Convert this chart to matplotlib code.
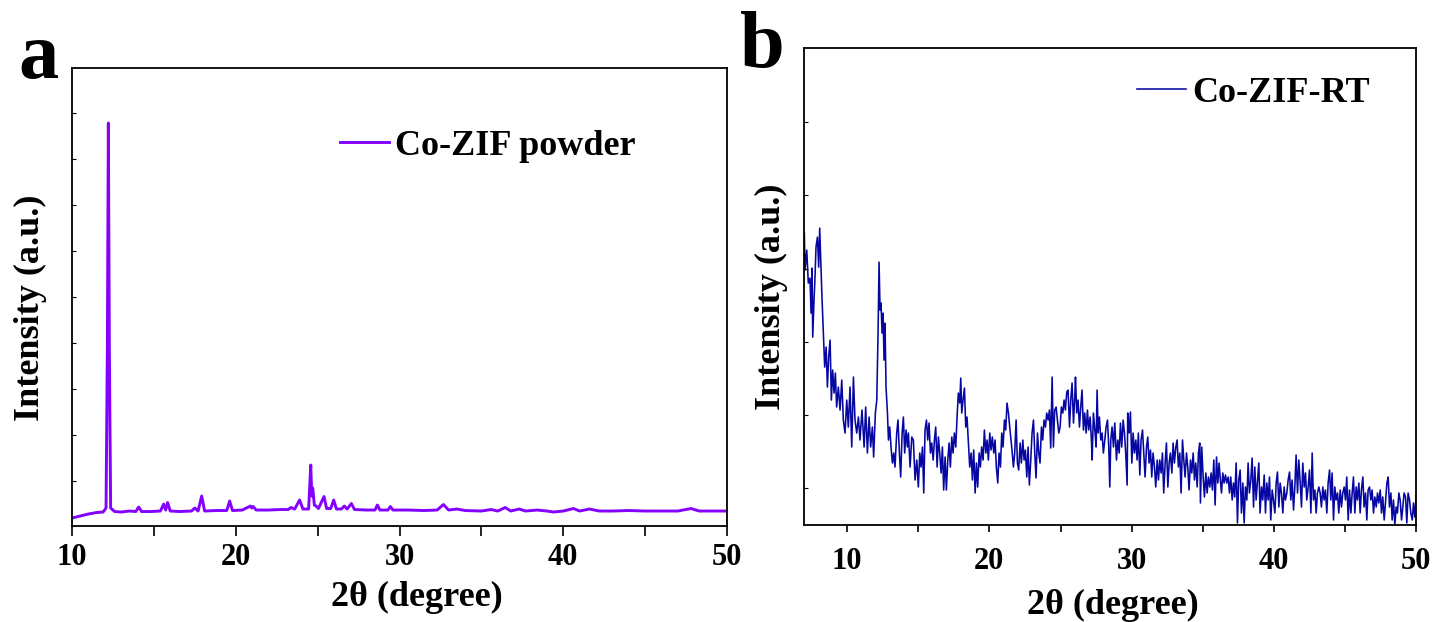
import numpy as np
import matplotlib
matplotlib.use("Agg")
import matplotlib.pyplot as plt

plt.rcParams['font.family'] = ['Liberation Serif', 'DejaVu Serif']
plt.rcParams['font.weight'] = 'bold'

# ---- panel a : Co-ZIF powder (2theta, intensity a.u.) ----
powder_2theta = [10.0, 10.5, 11.0, 11.5, 11.9, 12.08, 12.16, 12.22, 12.28, 12.36, 12.6, 13.0,
                 13.5, 13.9, 14.07, 14.25, 14.8, 15.4, 15.6, 15.72, 15.84, 16.0, 16.6, 17.3,
                 17.5, 17.7, 17.92, 18.1, 18.8, 19.45, 19.63, 19.8, 20.4, 20.9, 20.98, 21.06,
                 21.25, 22.0, 22.7, 23.2, 23.38, 23.6, 23.9, 24.1, 24.45, 24.58, 24.64, 24.7,
                 24.8, 24.9, 25.05, 25.39, 25.55, 25.8, 25.98, 26.15, 26.45, 26.63, 26.8, 27.06,
                 27.25, 28.0, 28.5, 28.65, 28.8, 29.3, 29.44, 29.6, 30.5, 31.5, 32.3, 32.68,
                 33.0, 33.5, 34.0, 35.0, 35.6, 36.0, 36.45, 36.8, 37.3, 37.7, 38.4, 39.0,
                 39.4, 40.0, 40.62, 41.0, 41.6, 42.2, 43.0, 44.0, 45.0, 46.0, 47.0, 47.8,
                 48.3, 49.0, 50.0]
powder_int = [8, 10, 12, 13.5, 14, 18, 180, 403, 180, 18, 14.5, 14,
              15, 14.5, 19, 14.5, 14.5, 15, 22, 16, 23.5, 15, 14.5, 15,
              18, 15, 30, 15, 15.5, 15.5, 25, 15.5, 16, 20, 18, 19.5,
              16, 16, 16.5, 16.5, 18.5, 17, 26, 17, 17, 61, 30, 38,
              21, 20, 17.5, 29.5, 17.5, 17.5, 26, 17, 17, 20, 17, 22.5,
              16.5, 16, 16, 21, 16, 16, 19.5, 16, 16, 15.5, 16, 21.5,
              16, 17, 15.5, 15, 16.5, 15, 18.5, 15, 17, 15, 16, 15,
              14, 15, 17.5, 15, 17, 15, 15, 15.5, 15, 15, 15, 17.5,
              15, 15, 15]

rt_07_14 = [(7.0, 292), (7.05, 255), (7.17, 275), (7.28, 242), (7.40, 247), (7.47, 212), (7.54, 257),
            (7.59, 188), (7.68, 225), (7.75, 248), (7.82, 278), (7.92, 288), (8.01, 258), (8.08, 297),
            (8.17, 258), (8.24, 228), (8.34, 192), (8.43, 158), (8.53, 178), (8.62, 138), (8.71, 168),
            (8.81, 185), (8.90, 125), (8.99, 155), (9.09, 132), (9.18, 152), (9.27, 118), (9.39, 138),
            (9.51, 115), (9.63, 145), (9.74, 105), (9.86, 92), (9.98, 125), (10.09, 98), (10.21, 138),
            (10.33, 78), (10.45, 148), (10.56, 105), (10.68, 92), (10.80, 108), (10.91, 85), (11.05, 115),
            (11.20, 78), (11.31, 118), (11.43, 72), (11.55, 108), (11.66, 78), (11.78, 98), (11.87, 68),
            (11.99, 112), (12.09, 125), (12.18, 192), (12.25, 263), (12.32, 215), (12.39, 222), (12.46, 192),
            (12.53, 212), (12.60, 165), (12.67, 202), (12.74, 138), (12.84, 112), (12.91, 85), (13.0, 98),
            (13.09, 78), (13.19, 62), (13.28, 72), (13.37, 58), (13.49, 92), (13.58, 105), (13.68, 72),
            (13.77, 48), (13.87, 92), (13.96, 108), (14.05, 72), (14.15, 95), (14.24, 78)]
rt_14_21 = [(14.31, 92), (14.43, 58), (14.55, 88), (14.66, 85), (14.78, 45), (14.90, 65), (15.01, 38),
            (15.11, 72), (15.20, 58), (15.30, 78), (15.39, 32), (15.48, 95), (15.58, 105), (15.67, 85),
            (15.76, 102), (15.86, 72), (15.95, 82), (16.05, 65), (16.14, 85), (16.23, 98), (16.33, 58),
            (16.42, 88), (16.51, 72), (16.61, 52), (16.70, 78), (16.79, 35), (16.89, 68), (16.98, 35),
            (17.08, 65), (17.17, 82), (17.26, 58), (17.36, 88), (17.45, 72), (17.54, 92), (17.64, 78),
            (17.73, 108), (17.82, 132), (17.92, 122), (17.99, 147), (18.06, 112), (18.15, 125), (18.25, 137),
            (18.34, 98), (18.43, 108), (18.53, 82), (18.62, 58), (18.72, 72), (18.81, 45), (18.90, 75),
            (19.0, 32), (19.09, 62), (19.18, 38), (19.28, 72), (19.37, 58), (19.46, 78), (19.56, 65),
            (19.65, 95), (19.75, 72), (19.84, 85), (19.93, 65), (20.03, 92), (20.12, 75), (20.21, 88),
            (20.31, 72), (20.40, 85), (20.49, 58), (20.59, 42), (20.68, 72), (20.78, 58), (20.87, 92),
            (20.96, 78), (21.06, 105), (21.15, 95), (21.24, 122), (21.34, 112), (21.43, 98)]
rt_21_29 = [(21.57, 78), (21.69, 58), (21.78, 72), (21.88, 105), (21.97, 62), (22.06, 55), (22.16, 82),
            (22.25, 62), (22.35, 85), (22.44, 65), (22.53, 75), (22.63, 48), (22.72, 78), (22.81, 40),
            (22.91, 65), (23.0, 92), (23.10, 105), (23.19, 72), (23.28, 47), (23.38, 92), (23.47, 72),
            (23.56, 62), (23.66, 98), (23.75, 85), (23.84, 105), (23.94, 98), (24.03, 112), (24.13, 105),
            (24.22, 115), (24.31, 77), (24.41, 148), (24.50, 78), (24.59, 115), (24.69, 118), (24.78, 105),
            (24.88, 92), (24.97, 98), (25.06, 118), (25.16, 112), (25.25, 125), (25.34, 115), (25.44, 133),
            (25.53, 135), (25.63, 98), (25.72, 125), (25.81, 142), (25.91, 102), (26.0, 128), (26.05, 148),
            (26.14, 112), (26.23, 125), (26.33, 98), (26.42, 118), (26.51, 135), (26.61, 95), (26.70, 112),
            (26.80, 92), (26.89, 115), (26.98, 95), (27.08, 108), (27.17, 85), (27.22, 65), (27.31, 112),
            (27.41, 95), (27.50, 78), (27.57, 135), (27.64, 92), (27.73, 108), (27.83, 85), (27.92, 92),
            (28.01, 72), (28.11, 85), (28.20, 98), (28.30, 105), (28.39, 78), (28.46, 38), (28.53, 85),
            (28.62, 98), (28.72, 78), (28.81, 102)]
rt_29_36 = [(28.93, 65), (29.02, 85), (29.12, 72), (29.21, 102), (29.30, 78), (29.40, 105), (29.49, 92),
            (29.58, 72), (29.68, 40), (29.72, 112), (29.82, 92), (29.91, 113), (30.01, 62), (30.10, 92),
            (30.19, 72), (30.29, 85), (30.38, 65), (30.47, 92), (30.57, 50), (30.66, 85), (30.76, 95),
            (30.85, 72), (30.94, 48), (31.04, 78), (31.13, 88), (31.22, 62), (31.32, 75), (31.41, 48),
            (31.50, 72), (31.60, 58), (31.69, 38), (31.79, 65), (31.88, 45), (31.97, 65), (32.07, 52),
            (32.16, 72), (32.25, 32), (32.35, 62), (32.44, 82), (32.54, 38), (32.63, 62), (32.72, 72),
            (32.82, 52), (32.91, 82), (33.0, 62), (33.10, 78), (33.19, 85), (33.28, 58), (33.38, 72),
            (33.47, 32), (33.57, 85), (33.66, 65), (33.75, 48), (33.85, 72), (33.94, 58), (34.03, 35),
            (34.13, 65), (34.22, 52), (34.32, 72), (34.41, 45), (34.50, 62), (34.60, 38), (34.69, 72),
            (34.78, 82), (34.83, 22), (34.92, 78), (35.02, 48), (35.11, 28), (35.21, 52), (35.30, 32),
            (35.39, 48), (35.49, 38), (35.58, 52), (35.67, 35), (35.77, 65), (35.86, 20), (35.96, 68),
            (36.05, 42), (36.14, 62)]
rt_36_43 = [(36.21, 48), (36.31, 32), (36.40, 52), (36.49, 42), (36.59, 50), (36.68, 42), (36.78, 48),
            (36.87, 32), (36.96, 48), (37.06, 25), (37.15, 42), (37.24, 28), (37.34, 62), (37.43, 2),
            (37.52, 45), (37.62, 55), (37.71, 12), (37.81, 42), (37.90, 2), (37.99, 38), (38.09, 25),
            (38.18, 62), (38.27, 32), (38.37, 45), (38.46, 67), (38.56, 18), (38.65, 58), (38.74, 25),
            (38.84, 45), (38.93, 62), (39.02, 12), (39.12, 38), (39.21, 25), (39.31, 50), (39.40, 12),
            (39.49, 42), (39.59, 25), (39.68, 48), (39.77, 5), (39.87, 35), (39.96, 25), (40.06, 12),
            (40.15, 42), (40.24, 53), (40.34, 18), (40.43, 42), (40.52, 32), (40.62, 12), (40.71, 38),
            (40.80, 25), (40.90, 32), (40.99, 45), (41.09, 53), (41.18, 25), (41.27, 45), (41.37, 15),
            (41.46, 38), (41.55, 70), (41.65, 32), (41.74, 65), (41.84, 42), (41.93, 18), (42.02, 62),
            (42.12, 38), (42.21, 52), (42.30, 25), (42.40, 38), (42.49, 55), (42.59, 12), (42.68, 72),
            (42.77, 25), (42.87, 35), (42.96, 12), (43.05, 32), (43.15, 38)]
rt_43_50 = [(43.24, 32), (43.33, 18), (43.43, 38), (43.52, 25), (43.61, 35), (43.71, 12), (43.80, 42),
            (43.90, 55), (43.99, 25), (44.08, 52), (44.18, 5), (44.27, 38), (44.36, 25), (44.46, 32),
            (44.55, 12), (44.65, 35), (44.74, 18), (44.83, 32), (44.93, 38), (45.02, 25), (45.11, 48),
            (45.21, 5), (45.30, 35), (45.40, 12), (45.49, 32), (45.58, 48), (45.68, 12), (45.77, 38),
            (45.86, 25), (45.96, 42), (46.05, 12), (46.14, 35), (46.24, 48), (46.33, 18), (46.43, 32),
            (46.52, 5), (46.61, 35), (46.71, 38), (46.80, 25), (46.89, 35), (46.99, 12), (47.08, 28),
            (47.18, 18), (47.27, 32), (47.36, 22), (47.46, 35), (47.55, 12), (47.64, 28), (47.74, 5),
            (47.83, 22), (47.93, 42), (48.02, 48), (48.11, 18), (48.21, 32), (48.30, 5), (48.39, 25),
            (48.49, 0), (48.58, 18), (48.67, 12), (48.77, 32), (48.86, 25), (48.96, 5), (49.05, 18),
            (49.14, 32), (49.24, 28), (49.33, 2), (49.42, 32), (49.52, 25), (49.61, 12), (49.71, 5),
            (49.80, 22), (49.89, 8), (49.99, 30)]

rt = np.array(rt_07_14 + rt_14_21 + rt_21_29 + rt_29_36 + rt_36_43 + rt_43_50)

fig = plt.figure(figsize=(14.34, 6.22), dpi=100)

# panel a
ax1 = fig.add_axes([0.0502, 0.1543, 0.4568, 0.7363])
ax1.plot(powder_2theta, powder_int, color='#8400ff', lw=2.1, label='Co-ZIF powder')
ax1.set_xlim(10, 50)
ax1.set_ylim(0, 458)
ax1.set_xticks([10, 20, 30, 40, 50])
ax1.set_xticks([15, 25, 35, 45], minor=True)
ax1.set_yticks(np.arange(45, 420, 46))
ax1.set_yticklabels([])
ax1.tick_params(axis='x', which='both', direction='out', length=7, width=1.2, pad=5, labelsize=22)
ax1.tick_params(axis='y', direction='in', length=3, width=0.8)
ax1.set_xlabel('2θ (degree)', fontsize=26, fontweight='bold')
ax1.set_ylabel('Intensity (a.u.)', fontsize=26, fontweight='bold')
ax1.xaxis.set_label_coords(0.527, -0.155)
ax1.xaxis.label.set_va('center')
ax1.yaxis.set_label_coords(-0.064, 0.476)
ax1.yaxis.label.set_va('center')
ax1.legend(loc='center left', bbox_to_anchor=(0.409, 0.83), frameon=False, fontsize=26,
           handlelength=1.35, handletextpad=0.18, borderpad=0, borderaxespad=0)

# panel b
ax2 = fig.add_axes([0.5609, 0.156, 0.4268, 0.7664])
ax2.plot(rt[:, 0], rt[:, 1], color='#0606a2', lw=1.15, label='Co-ZIF-RT')
ax2.set_xlim(7, 50)
ax2.set_ylim(0, 477)
ax2.set_xticks([10, 20, 30, 40, 50])
ax2.set_xticks([15, 25, 35, 45], minor=True)
ax2.set_yticks(np.arange(37, 470, 73.2))
ax2.set_yticklabels([])
ax2.tick_params(axis='x', which='both', direction='out', length=5, width=1.2, pad=11, labelsize=22)
ax2.tick_params(axis='y', direction='in', length=3, width=0.8)
ax2.set_xlabel('2θ (degree)', fontsize=26, fontweight='bold')
ax2.set_ylabel('Intensity (a.u.)', fontsize=26, fontweight='bold')
ax2.xaxis.set_label_coords(0.504, -0.168)
ax2.xaxis.label.set_va('center')
ax2.yaxis.set_label_coords(-0.054, 0.478)
ax2.yaxis.label.set_va('center')
ax2.legend(loc='center left', bbox_to_anchor=(0.544, 0.906), frameon=False, fontsize=26,
           handlelength=1.35, handletextpad=0.18, borderpad=0, borderaxespad=0)

for ax in (ax1, ax2):
    for s in ax.spines.values():
        s.set_linewidth(1.3)
    for lab in ax.get_xticklabels():
        lab.set_fontweight('bold')

fig.text(18 / 1434, 1 - 78 / 622, 'a', fontsize=58, fontweight='bold', ha='left', va='baseline')
fig.text(740 / 1434, 1 - 67 / 622, 'b', fontsize=58, fontweight='bold', ha='left', va='baseline')

fig.savefig('out.png', dpi=100)
